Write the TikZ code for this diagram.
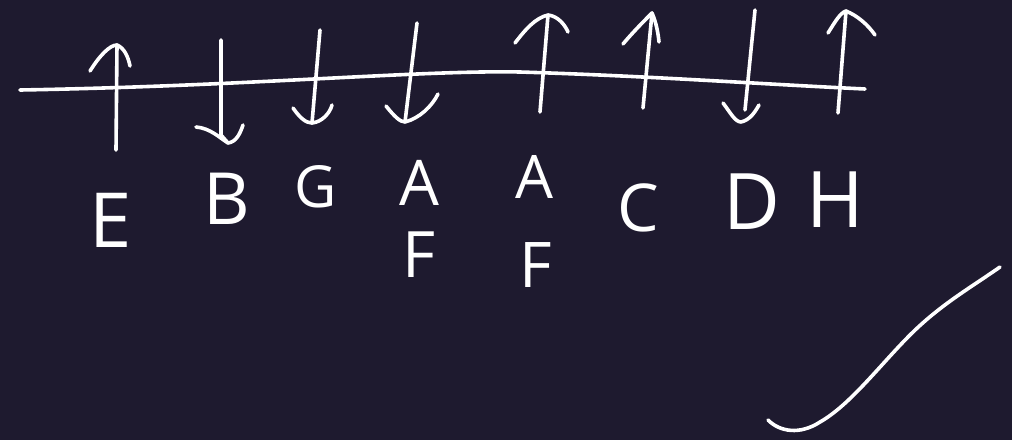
\documentclass[tikz,border=0pt]{standalone}
\usepackage{fontspec}
\setmainfont{Open Sans}
\definecolor{bg}{HTML}{1E1A2F}
\tikzset{
  ink/.style={draw=white, line width=3.6pt, line cap=round, line join=round},
  lab/.style={text=white, inner sep=0pt, font=\fontsize{#1}{#1}\selectfont},
}
\begin{document}
\begin{tikzpicture}[x=1pt,y=-1pt]
\fill[bg] (0,0) rectangle (1012,440);
\useasboundingbox (0,0) rectangle (1012,440);
% axis line
\coordinate (L0) at (20,90);
\coordinate (L1) at (865,89);
\draw[ink] (L0) .. controls (250,86) and (420,70) .. (520,72)
           .. controls (650,76) and (760,84) .. (L1);
% arrow 1 up
\coordinate (a1s) at (116,150); \coordinate (a1t) at (117,45);
\draw[ink] (a1s) -- (a1t);
\draw[ink] (90,71) .. controls (100,55) and (110,45) .. (a1t) .. controls (124,48) and (128,56) .. (130,66);
% arrow 2 down
\coordinate (a2s) at (221,40); \coordinate (a2t) at (228,143);
\draw[ink] (a2s) -- (221,135) -- (a2t);
\draw[ink] (196,127) .. controls (210,128) and (220,138) .. (a2t) .. controls (236,142) and (240,134) .. (243,125);
% arrow 3 down
\coordinate (a3s) at (320,30); \coordinate (a3t) at (312,123);
\draw[ink] (a3s) -- (a3t);
\draw[ink] (293,108) .. controls (300,118) and (306,123) .. (a3t) .. controls (322,122) and (330,113) .. (332,105);
% arrow 4 down
\coordinate (a4s) at (417,23); \coordinate (a4t) at (405,122);
\draw[ink] (a4s) -- (a4t);
\draw[ink] (386,106) .. controls (394,116) and (400,122) .. (a4t) .. controls (420,118) and (432,106) .. (438,94);
% arrow 5 up
\coordinate (a5s) at (540,112); \coordinate (a5t) at (548,15);
\draw[ink] (a5s) -- (a5t);
\draw[ink] (515,43) .. controls (525,30) and (535,18) .. (a5t) .. controls (558,16) and (565,25) .. (568,32);
% arrow 6 up
\coordinate (a6s) at (643,108); \coordinate (a6t) at (652,13);
\draw[ink] (a6s) -- (a6t);
\draw[ink] (623,44) .. controls (633,32) and (645,20) .. (a6t) .. controls (656,22) and (658,32) .. (659,42);
% arrow 7 down
\coordinate (a7s) at (755,10); \coordinate (a7t) at (745,110);
\draw[ink] (a7s) -- (a7t);
\draw[ink] (723,103) .. controls (730,112) and (735,122) .. (741,122) .. controls (750,120) and (755,112) .. (759,105);
% arrow 8 up
\coordinate (a8s) at (838,113); \coordinate (a8t) at (846,11);
\draw[ink] (a8s) -- (a8t);
\draw[ink] (828,33) .. controls (835,22) and (840,13) .. (a8t) .. controls (858,16) and (868,25) .. (875,35);
% labels
\node[lab=76] (E) at (111,220) {E};
\node[lab=72] (B) at (227,199) {B};
\node[lab=58] (G) at (316,187) {G};
\node[lab=63] (A1) at (419,183) {A};
\node[lab=64] (F1) at (419,255) {F};
\node[lab=60] (A2) at (534,177) {A};
\node[lab=63] (F2) at (536,265) {F};
\node[lab=66] (C) at (638,208) {C};
\node[lab=78] (D) at (752,202) {D};
\node[lab=78] (H) at (835,200) {H};
% check stroke
\coordinate (k0) at (768,420);
\coordinate (k1) at (1000,267);
\draw[ink] (k0) .. controls (780,432) and (800,435) .. (820,422)
  .. controls (850,405) and (880,365) .. (910,335)
  .. controls (940,305) and (970,288) .. (k1);
\end{tikzpicture}
\end{document}
